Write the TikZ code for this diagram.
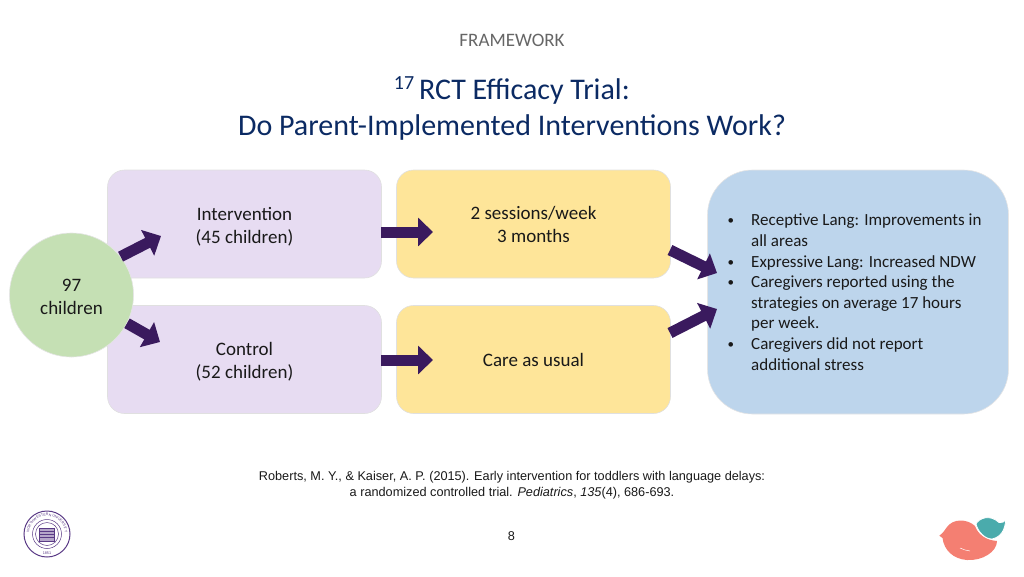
\documentclass[tikz,border=0pt]{standalone}
\usepackage{fontspec}
\setmainfont{Carlito}
\newfontfamily\citefont{Liberation Sans}
\usetikzlibrary{arrows.meta,decorations.text}
\definecolor{lilacfill}{HTML}{E7DCF2}
\definecolor{sunfill}{HTML}{FEE599}
\definecolor{skyfill}{HTML}{BDD5EC}
\definecolor{leaffill}{HTML}{C5E0B4}
\definecolor{plum}{HTML}{3A1A5E}
\definecolor{navy}{HTML}{0B2A63}
\definecolor{seal}{HTML}{5A3A86}
\definecolor{salmon}{HTML}{F47F72}
\definecolor{teal}{HTML}{4AABAC}
\newcommand{\litem}{\llap{\raisebox{1pt}{\fontsize{13}{13}\selectfont\textbullet}\hspace{17pt}}}
\tikzset{
    groupbox/.style={rectangle,draw=black!12,line width=0.6pt,rounded corners=17pt,minimum width=274pt,minimum height=108pt,align=center,inner sep=0pt,text=black!90,font=\fontsize{19}{23}\selectfont},
    blockarrow/.style={draw=plum,line width=11pt,-{Triangle[length=15pt,width=28pt,fill=plum]}},
    plaintext/.style={inner sep=0pt,align=center},
}
\begin{document}
\begin{tikzpicture}[x=1pt,y=-1pt]
    \useasboundingbox (0,0) rectangle (1024,576);
    \node [plaintext,text=black!60,font=\fontsize{19}{21}\selectfont] (heading) at (512,40) {FRAMEWORK};
    \node [plaintext,text=navy,font=\fontsize{30}{36}\selectfont] (titleone) at (524.5,91) {RCT Efficacy Trial:};
    \node [plaintext,text=navy,font=\fontsize{20}{24}\selectfont] (titlenote) at (404,83) {17};
    \node [plaintext,text=navy,font=\fontsize{30}{36}\selectfont] (titletwo) at (512,127) {Do Parent-Implemented Interventions Work?};
    \node [groupbox,fill=lilacfill] (intervention) at (244.5,224) {\rule{0pt}{18pt}Intervention\\(45 children)};
    \node [groupbox,fill=lilacfill] (control) at (244.5,359.5) {\rule{0pt}{18pt}Control\\(52 children)};
    \node [groupbox,fill=sunfill] (sessions) at (533.5,224) {2 sessions/week\\3 months};
    \node [groupbox,fill=sunfill] (usual) at (533.5,359.5) {Care as usual};
    \node [rectangle,draw=black!10,line width=0.6pt,fill=skyfill,rounded corners=45pt,minimum width=301pt,minimum height=244pt,inner sep=0pt] (outcomes) at (858,292) {};
    \node [circle,draw=black!10,line width=0.6pt,fill=leaffill,minimum size=124pt,inner sep=0pt,align=center,text=black!90,font=\fontsize{19}{23}\selectfont] (children) at (71.5,295) {\rule{0pt}{17pt}97\\children};
    \node [anchor=north west,inner sep=0pt,align=left,text=black!90,font=\fontsize{17}{20.6}\selectfont] (findings) at (751,214) {\litem Receptive Lang: Improvements in\\all areas\\\litem Expressive Lang: Increased NDW\\\litem Caregivers reported using the\\strategies on average 17 hours\\per week.\\\litem Caregivers did not report\\additional stress};
    \coordinate (tipa) at (161,236);
    \coordinate (tipb) at (160,342);
    \coordinate (tipc) at (433,232);
    \coordinate (tipd) at (433,360);
    \coordinate (tipe) at (717,273);
    \coordinate (tipf) at (717,309);
    \coordinate (taila) at (381,232);
    \coordinate (tailb) at (381,360);
    \coordinate (tailc) at (670,250);
    \coordinate (taild) at (670,333);
    \draw [blockarrow] (children.38) -- (tipa);
    \draw [blockarrow] (children.-27) -- (tipb);
    \draw [blockarrow] (taila) -- (tipc);
    \draw [blockarrow] (tailb) -- (tipd);
    \draw [blockarrow] (tailc) -- (tipe);
    \draw [blockarrow] (taild) -- (tipf);
    \node [plaintext,font=\citefont\fontsize{12.7}{15.5}\selectfont,text=black!90] (citation) at (512,485) {Roberts, M. Y., \& Kaiser, A. P. (2015). Early intervention for toddlers with language delays:\\a randomized controlled trial. \textit{Pediatrics}, \textit{135}(4), 686-693.};
    \node [plaintext,font=\citefont\fontsize{12.7}{15}\selectfont,text=black!90] (pagenum) at (511.5,536.5) {8};
    \coordinate (sealmid) at (47,534);
    \draw [seal,line width=1pt] (sealmid) circle (23);
    \draw [seal,line width=0.5pt] (sealmid) circle (14.5);
    \draw [seal,line width=0.5pt] (sealmid) circle (11.5);
    \draw [seal,fill=seal!45,line width=0.5pt] (39.5,528) rectangle (54.5,541);
    \draw [seal,line width=0.6pt] (39.5,531) -- (54.5,531) (39.5,534) -- (54.5,534) (39.5,537) -- (54.5,537);
    \begin{scope}[shift={(sealmid)},y=1pt]
    \path [decorate,decoration={text along path,text align=center,text={|\citefont\fontsize{3.6}{5}\selectfont\color{seal}|NORTHWESTERN UNIVERSITY}}] (205:18) arc [start angle=205,end angle=-25,radius=18];
    \end{scope}
    \node [plaintext,text=seal,font=\citefont\fontsize{3.8}{5}\selectfont] (sealyear) at (47,553) {1851};
    \fill [salmon] (939.3,535.7) .. controls (943,533) and (944,531) .. (947,527) .. controls (953,518.5) and (967,518.5) .. (975,526) .. controls (978,534) and (985,540) .. (997,541) .. controls (997,552) and (982,561) .. (967,560) .. controls (953,559) and (944,550) .. (942.5,538) -- cycle;
    \draw [white,line width=0.8pt,fill=teal] (976,524) .. controls (979,518) and (990,514) .. (999,522.5) .. controls (1002,523) and (1004,522) .. (1005.7,520) .. controls (1005,530) and (1001,537) .. (992,539) .. controls (985,539) and (978,532) .. (976,524) -- cycle;
    \draw [white,line width=0.5pt] (960,548) .. controls (963,550) and (966,550) .. (970,551);
\end{tikzpicture}
\end{document}
